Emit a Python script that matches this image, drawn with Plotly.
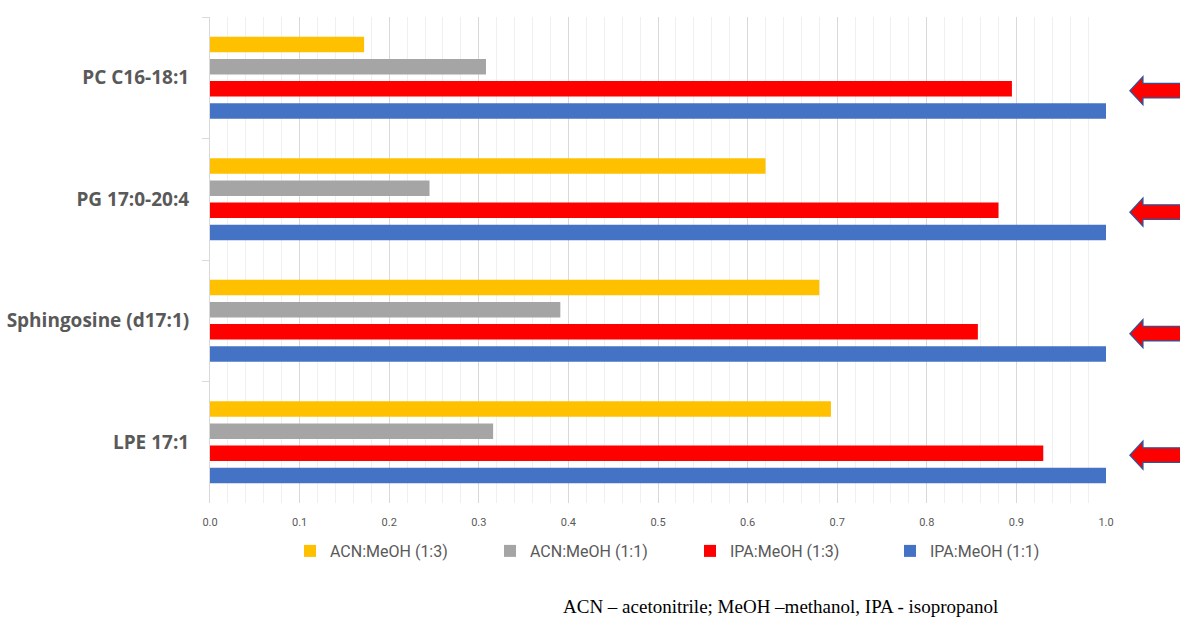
import plotly.graph_objects as go

categories = ["PC C16-18:1", "PG 17:0-20:4", "Sphingosine (d17:1)", "LPE 17:1"]
series_names = ["ACN:MeOH (1:3)", "ACN:MeOH (1:1)", "IPA:MeOH (1:3)", "IPA:MeOH (1:1)"]
acn_13 = [0.172, 0.620, 0.680, 0.693]
acn_11 = [0.308, 0.245, 0.391, 0.316]
ipa_13 = [0.895, 0.880, 0.857, 0.930]
ipa_11 = [1.0, 1.0, 1.0, 1.0]
colors = ["#FFC000", "#A5A5A5", "#FF0000", "#4472C4"]
x_ticks = [0.0, 0.1, 0.2, 0.3, 0.4, 0.5, 0.6, 0.7, 0.8, 0.9, 1.0]
footnote = "ACN – acetonitrile; MeOH –methanol, IPA - isopropanol"

fig = go.Figure()
for name, vals, col in zip(series_names, [acn_13, acn_11, ipa_13, ipa_11], colors):
    fig.add_trace(go.Bar(
        y=categories, x=vals, name=name, orientation="h",
        marker=dict(color=col, line=dict(color=col, width=0)),
    ))

# decorative arrows pointing at the IPA:MeOH (1:3) bars
bargap = 0.27
slot = (1 - bargap) / 4
red_off = -(1 - bargap) / 2 + slot * 2.5 + 0.015
for i in range(len(categories)):
    yc = i + red_off
    hh, sh = 0.115, 0.06
    path = (f"M 1.0267,{yc} L 1.0412,{yc-hh} L 1.0412,{yc-sh} L 1.09,{yc-sh} "
            f"L 1.09,{yc+sh} L 1.0412,{yc+sh} L 1.0412,{yc+hh} Z")
    fig.add_shape(type="path", path=path, xref="paper", yref="y",
                  fillcolor="#FF0000", line=dict(color="#2F5597", width=1.3),
                  layer="above")

fig.add_annotation(text=footnote, xref="paper", yref="paper",
                   x=(780 - 210) / 896, y=-(606 - 503) / 486, showarrow=False,
                   xanchor="center", yanchor="middle",
                   font=dict(family="Liberation Serif, Times New Roman, serif", size=19, color="#000000"))

fig.update_layout(
    width=1180, height=617,
    margin=dict(l=210, r=74, t=17, b=114),
    barmode="group", bargap=bargap, bargroupgap=0.3,
    plot_bgcolor="white", paper_bgcolor="white",
    showlegend=True,
    legend=dict(orientation="h", x=(290 - 210) / 896, y=-(551 - 503) / 486,
                xanchor="left", yanchor="middle", traceorder="normal",
                font=dict(family="Roboto, sans-serif", size=16, color="#595959"),
                itemwidth=30, entrywidth=155, entrywidthmode="pixels"),
    xaxis=dict(range=[0, 1.0], tickvals=x_ticks, tickformat=".1f",
               showgrid=True, gridcolor="#D9D9D9", gridwidth=1,
               minor=dict(dtick=0.02, showgrid=True, gridcolor="#F0F0F0", gridwidth=1),
               zeroline=False, showline=False, ticks="",
               ticklabelstandoff=11, automargin=False,
               tickfont=dict(family="Roboto, sans-serif", size=11, color="#595959"),
               fixedrange=True),
    yaxis=dict(autorange="reversed", type="category",
               showline=True, linecolor="#D9D9D9", linewidth=1,
               ticks="outside", tickson="boundaries", ticklen=7, tickcolor="#D9D9D9",
               ticklabelstandoff=16, automargin=False,
               tickfont=dict(family="Open Sans, sans-serif", size=19, color="#595959", weight="bold"),
               showgrid=False),
)
fig.write_html("out.html")
